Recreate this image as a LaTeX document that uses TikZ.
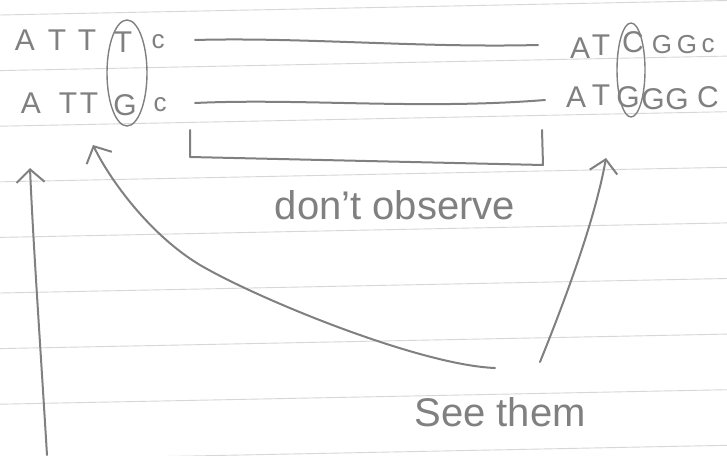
\documentclass[tikz,border=0pt]{standalone}
\usepackage{fontspec}
\setmainfont{Liberation Sans}
\usetikzlibrary{arrows.meta}
\definecolor{pencil}{RGB}{128,128,128}
\definecolor{ruling}{RGB}{215,215,215}
\begin{document}
\begin{tikzpicture}[x=1pt,y=-1pt,
  big/.style={text=pencil,font=\fontsize{30}{30}\selectfont,inner sep=0pt,anchor=center},
  small/.style={text=pencil,font=\fontsize{26}{26}\selectfont,inner sep=0pt,anchor=center},
  hand/.style={text=pencil,font=\fontsize{40}{40}\selectfont,inner sep=0pt,anchor=center},
  stroke/.style={draw=pencil,line width=2pt,line cap=round,line join=round},
  thin stroke/.style={draw=pencil,line width=1.4pt,line cap=round},
  barb/.style={-{Straight Barb[length=13pt,width=28pt,line width=2pt]}}
]
\fill[white] (0,0) rectangle (727,455);
\useasboundingbox (0,0) rectangle (727,455);
% ruled paper
\foreach \k in {0,...,8}
  \draw[ruling,line width=0.9pt] (0,{15+55.6*\k}) -- (727,{15+55.6*\k-14.5});

% left sequences
\node[big]   (a1) at (25,40)  {A};
\node[big]   (a2) at (57,40)  {T};
\node[big]   (a3) at (87,40)  {T};
\node[big]   (a4) at (123,42) {T};
\node[small] (a5) at (158,42) {c};
\node[big]   (b1) at (31,103) {A};
\node[big]   (b2) at (68,103) {T};
\node[big]   (b3) at (89,103) {T};
\node[big]   (b4) at (125,105){G};
\node[small] (b5) at (160,105){c};
\draw[thin stroke] (127,73) ellipse [x radius=20, y radius=53];

% right sequences
\node[big]   (c1) at (580,48) {A};
\node[big]   (c2) at (601,45) {T};
\node[big]   (c3) at (633,42) {C};
\node[small] (c4) at (662,45) {G};
\node[small] (c5) at (687,45) {G};
\node[small] (c6) at (708,46) {c};
\node[big]   (d1) at (576,97) {A};
\node[big]   (d2) at (601,95) {T};
\node[big]   (d3) at (628,97) {G};
\node[big]   (d4) at (653,99) {G};
\node[big]   (d5) at (677,99) {G};
\node[big]   (d6) at (708,97) {C};
\draw[thin stroke] (631,70) ellipse [x radius=14, y radius=47];

% long lines
\coordinate (l1a) at (195,40);
\coordinate (l1b) at (538,45);
\coordinate (l2a) at (195,103);
\coordinate (l2b) at (545,100);
\draw[stroke] (l1a) .. controls (300,37) and (420,48) .. (l1b);
\draw[stroke] (l2a) .. controls (300,98) and (420,110) .. (l2b);

% bracket
\coordinate (k1) at (190,130);
\coordinate (k2) at (190,157);
\coordinate (k3) at (543,165);
\coordinate (k4) at (542,130);
\draw[stroke] (k1) -- (k2) -- (k3) -- (k4);

\node[hand] (obs) at (395,205) {don't observe};
\node[hand] (see) at (500,412) {See them};

% arrows
\coordinate (s0) at (47,455);
\coordinate (t0) at (30,168);
\draw[stroke,barb] (s0) .. controls (40,340) and (33,240) .. (t0);

\coordinate (s1) at (495,368);
\coordinate (m1) at (200,265);
\coordinate (t1) at (93,145);
\draw[stroke,barb] (s1) .. controls (420,365) and (260,300) .. (m1)
  .. controls (150,235) and (110,180) .. (t1);

\coordinate (s2) at (540,362);
\coordinate (t2) at (606,158);
\draw[stroke,barb] (s2) .. controls (565,300) and (595,220) .. (t2);
\end{tikzpicture}
\end{document}
